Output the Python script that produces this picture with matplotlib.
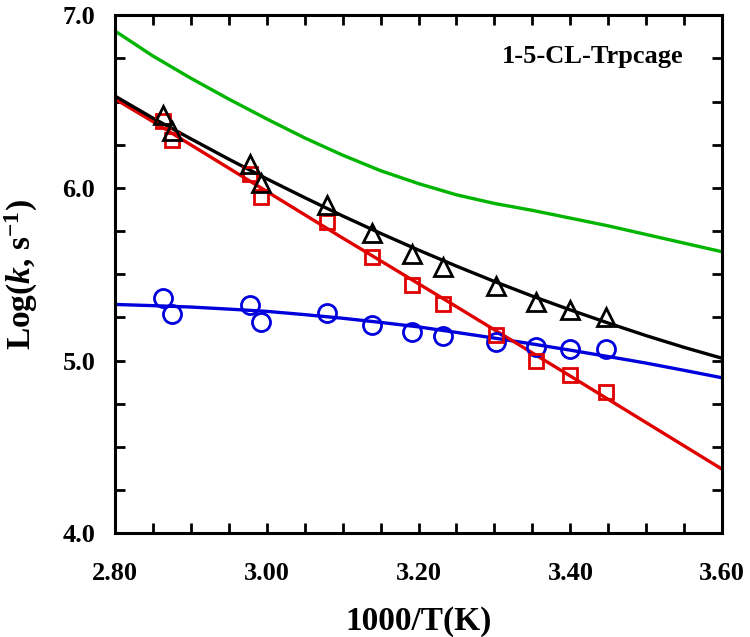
import matplotlib
matplotlib.use('Agg')
import matplotlib.pyplot as plt
from matplotlib.ticker import MultipleLocator, FormatStrFormatter

plt.rcParams['font.family'] = ['Liberation Serif', 'DejaVu Serif']
plt.rcParams['font.weight'] = 'bold'
plt.rcParams['mathtext.fontset'] = 'custom'
plt.rcParams['mathtext.rm'] = 'Liberation Serif:bold'
plt.rcParams['mathtext.it'] = 'Liberation Serif:italic:bold'
plt.rcParams['mathtext.bf'] = 'Liberation Serif:bold'

# measured points, 1000/T
x_pts = [2.863, 2.876, 2.978, 2.992, 3.080, 3.139, 3.192, 3.232, 3.302, 3.355, 3.399, 3.447]
tri_pts = [6.42, 6.33, 6.14, 6.03, 5.90, 5.74, 5.62, 5.54, 5.43, 5.34, 5.29, 5.25]
sq_pts = [6.39, 6.28, 6.08, 5.95, 5.80, 5.60, 5.44, 5.33, 5.15, 5.00, 4.915, 4.82]
circ_pts = [5.36, 5.27, 5.32, 5.225, 5.273, 5.206, 5.163, 5.14, 5.11, 5.077, 5.067, 5.067]

# fitted curves
x_fit = [2.80, 2.85, 2.90, 2.95, 3.00, 3.05, 3.10, 3.15, 3.20,
         3.25, 3.30, 3.35, 3.40, 3.45, 3.50, 3.55, 3.60]
black_fit = [6.533, 6.405, 6.285, 6.167, 6.053, 5.944, 5.838, 5.737, 5.640,
             5.547, 5.458, 5.373, 5.293, 5.217, 5.144, 5.076, 5.013]
red_fit = [6.516, 6.385, 6.25, 6.115, 5.98, 5.845, 5.71, 5.578, 5.445,
           5.312, 5.178, 5.044, 4.91, 4.775, 4.64, 4.505, 4.37]
blue_fit = [5.325, 5.318, 5.31, 5.298, 5.285, 5.266, 5.245, 5.221, 5.195,
            5.163, 5.13, 5.096, 5.06, 5.023, 4.985, 4.943, 4.90]
green_fit = [6.91, 6.765, 6.636, 6.515, 6.40, 6.29, 6.19, 6.10, 6.025,
             5.96, 5.91, 5.87, 5.825, 5.78, 5.73, 5.68, 5.63]

fig = plt.figure(figsize=(7.5, 6.37), dpi=100)
ax = fig.add_axes([0.153, 0.163, 0.81, 0.813])

lw = 2.4
ax.plot(x_fit, green_fit, color='#00b400', lw=lw)
ax.plot(x_fit, blue_fit, color='#0000dd', lw=lw)
ax.plot(x_fit, red_fit, color='#e00000', lw=lw)
ax.plot(x_fit, black_fit, color='black', lw=lw)

ax.plot(x_pts, circ_pts, 'o', ms=13, mfc='none', mec='#0000dd', mew=2)
ax.plot(x_pts, sq_pts, 's', ms=10.5, mfc='none', mec='#e00000', mew=2)
ax.plot(x_pts, tri_pts, '^', ms=13, mfc='none', mec='black', mew=2)

ax.set_xlim(2.8, 3.6)
ax.set_ylim(4.0, 7.0)
ax.xaxis.set_major_locator(MultipleLocator(0.2))
ax.xaxis.set_minor_locator(MultipleLocator(0.05))
ax.yaxis.set_major_locator(MultipleLocator(1.0))
ax.yaxis.set_minor_locator(MultipleLocator(0.25))
ax.xaxis.set_major_formatter(FormatStrFormatter('%.2f'))
ax.yaxis.set_major_formatter(FormatStrFormatter('%.1f'))

for s in ax.spines.values():
    s.set_linewidth(2.2)
ax.tick_params(which='both', direction='in', top=True, right=True, length=7, width=2)
ax.tick_params(axis='x', which='major', pad=21, labelsize=19)
ax.tick_params(axis='y', which='major', pad=14, labelsize=19)

ax.set_xlabel('1000/T(K)', fontsize=24, fontweight='bold', labelpad=15)
ax.set_ylabel(r'Log($\mathit{k}$, s$^{-1}$)', fontsize=24, fontweight='bold', labelpad=16)

ax.text(0.936, 0.907, '1-5-CL-Trpcage', transform=ax.transAxes, ha='right',
        va='baseline', fontsize=19, fontweight='bold')

fig.savefig('out.png', dpi=100)
